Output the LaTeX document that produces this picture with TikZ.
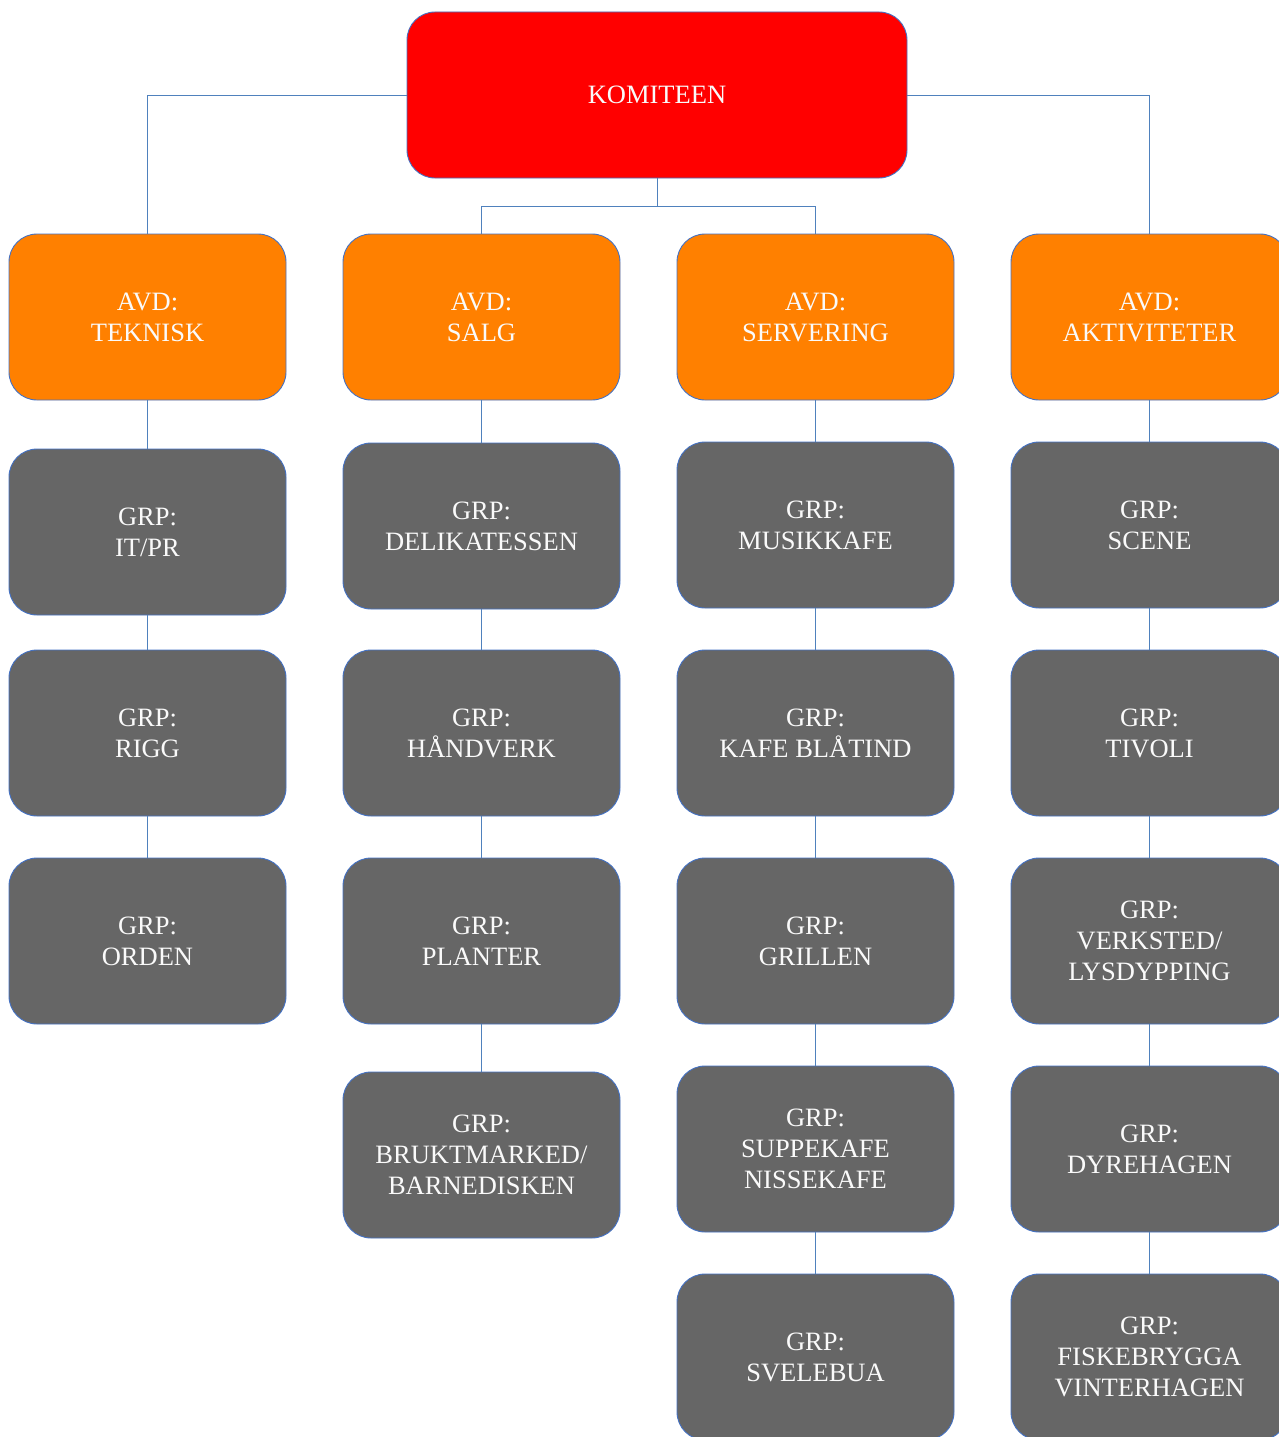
\documentclass[tikz,border=0pt]{standalone}
\usepackage{fontspec}
\setmainfont{Liberation Serif}
\definecolor{lnk}{RGB}{79,129,189}
\definecolor{bordc}{RGB}{68,114,196}
\definecolor{komred}{RGB}{255,0,0}
\definecolor{avdor}{RGB}{255,128,0}
\definecolor{grpgr}{RGB}{102,102,102}
\definecolor{txt}{RGB}{250,250,250}
\begin{document}
\begin{tikzpicture}[x=1pt,y=-1pt,
  box/.style={draw=bordc,line width=0.9pt,rounded corners=28pt,minimum width=277pt,minimum height=166pt,inner sep=0pt,align=center,text=txt,font=\fontsize{26.5}{31}\selectfont},
  kombox/.style={box,fill=komred,minimum width=500pt},
  avdbox/.style={box,fill=avdor},
  grpbox/.style={box,fill=grpgr},
  conn/.style={draw=lnk,line width=0.9pt}]
\useasboundingbox (0,0) rectangle (1279,1437);
% connectors first (behind boxes)
\coordinate (mid) at (657,206);
\node[kombox] (kom) at (657,95) {KOMITEEN};
\node[avdbox] (tek) at (147.5,317) {AVD:\\TEKNISK};
\node[avdbox] (salg) at (481.5,317) {AVD:\\SALG};
\node[avdbox] (serv) at (815.5,317) {AVD:\\SERVERING};
\node[avdbox] (akt) at (1149.5,317) {AVD:\\AKTIVITETER};
% column 1
\node[grpbox] (itpr) at (147.5,532) {GRP:\\IT/PR};
\node[grpbox] (rigg) at (147.5,733) {GRP:\\RIGG};
\node[grpbox] (orden) at (147.5,941) {GRP:\\ORDEN};
% column 2
\node[grpbox] (deli) at (481.5,526) {GRP:\\DELIKATESSEN};
\node[grpbox] (hand) at (481.5,733) {GRP:\\HÅNDVERK};
\node[grpbox] (plant) at (481.5,941) {GRP:\\PLANTER};
\node[grpbox] (brukt) at (481.5,1155) {GRP:\\BRUKTMARKED/\\BARNEDISKEN};
% column 3
\node[grpbox] (musikk) at (815.5,525) {GRP:\\MUSIKKAFE};
\node[grpbox] (blatind) at (815.5,733) {GRP:\\KAFE BLÅTIND};
\node[grpbox] (grill) at (815.5,941) {GRP:\\GRILLEN};
\node[grpbox] (suppe) at (815.5,1149) {GRP:\\SUPPEKAFE\\NISSEKAFE};
\node[grpbox] (svele) at (815.5,1357) {GRP:\\SVELEBUA};
% column 4
\node[grpbox] (scene) at (1149.5,525) {GRP:\\SCENE};
\node[grpbox] (tivoli) at (1149.5,733) {GRP:\\TIVOLI};
\node[grpbox] (verk) at (1149.5,941) {GRP:\\VERKSTED/\\LYSDYPPING};
\node[grpbox] (dyre) at (1149.5,1149) {GRP:\\DYREHAGEN};
\node[grpbox] (fiske) at (1149.5,1357) {GRP:\\FISKEBRYGGA\\VINTERHAGEN};
% connectors
\draw[conn] (kom.west) -| (tek.north);
\draw[conn] (kom.east) -| (akt.north);
\draw[conn] (kom.south) -- (mid);
\draw[conn] (mid) -| (salg.north);
\draw[conn] (mid) -| (serv.north);
\draw[conn] (tek) -- (itpr);
\draw[conn] (itpr) -- (rigg);
\draw[conn] (rigg) -- (orden);
\draw[conn] (salg) -- (deli);
\draw[conn] (deli) -- (hand);
\draw[conn] (hand) -- (plant);
\draw[conn] (plant) -- (brukt);
\draw[conn] (serv) -- (musikk);
\draw[conn] (musikk) -- (blatind);
\draw[conn] (blatind) -- (grill);
\draw[conn] (grill) -- (suppe);
\draw[conn] (suppe) -- (svele);
\draw[conn] (akt) -- (scene);
\draw[conn] (scene) -- (tivoli);
\draw[conn] (tivoli) -- (verk);
\draw[conn] (verk) -- (dyre);
\draw[conn] (dyre) -- (fiske);
\end{tikzpicture}
\end{document}
